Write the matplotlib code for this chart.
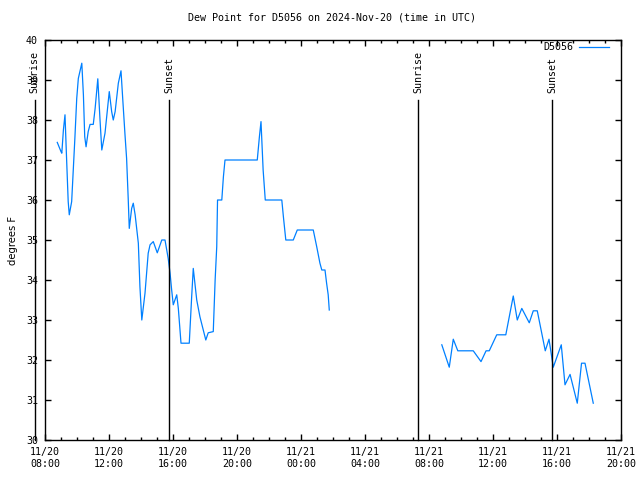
import datetime as dt
import numpy as np
import matplotlib
matplotlib.use("Agg")
import matplotlib.pyplot as plt
import matplotlib.dates as mdates

# dew point readings for D5056 (UTC), two runs with a gap overnight
times_a = ["11-20 08:46", "11-20 09:00", "11-20 09:03", "11-20 09:09", "11-20 09:15",
           "11-20 09:20", "11-20 09:27", "11-20 09:31", "11-20 09:40", "11-20 09:52",
           "11-20 09:59", "11-20 10:05", "11-20 10:18", "11-20 10:24", "11-20 10:29",
           "11-20 10:34", "11-20 10:42", "11-20 10:49", "11-20 11:01", "11-20 11:08",
           "11-20 11:18", "11-20 11:26", "11-20 11:33", "11-20 11:45", "11-20 12:01",
           "11-20 12:10", "11-20 12:16", "11-20 12:23", "11-20 12:35", "11-20 12:45",
           "11-20 12:51", "11-20 13:00", "11-20 13:06", "11-20 13:12", "11-20 13:16",
           "11-20 13:25", "11-20 13:31", "11-20 13:38", "11-20 13:50", "11-20 13:56",
           "11-20 14:03", "11-20 14:15", "11-20 14:27", "11-20 14:34", "11-20 14:46",
           "11-20 15:01", "11-20 15:18", "11-20 15:30", "11-20 15:42", "11-20 15:49",
           "11-20 15:55", "11-20 16:01", "11-20 16:14", "11-20 16:20", "11-20 16:30",
           "11-20 17:01", "11-20 17:10", "11-20 17:16", "11-20 17:29", "11-20 17:41",
           "11-20 18:03", "11-20 18:12", "11-20 18:31", "11-20 18:38", "11-20 18:44",
           "11-20 18:47", "11-20 19:03", "11-20 19:09", "11-20 19:15", "11-20 21:16",
           "11-20 21:24", "11-20 21:30", "11-20 21:38", "11-20 21:46", "11-20 22:48",
           "11-20 22:54", "11-20 23:03", "11-20 23:31", "11-20 23:46", "11-21 00:46",
           "11-21 00:59", "11-21 01:11", "11-21 01:18", "11-21 01:30", "11-21 01:36",
           "11-21 01:42", "11-21 01:46"]
dew_a = [37.44, 37.21, 37.17, 37.75, 38.13, 37.2, 35.96, 35.63, 35.96, 37.54,
         38.54, 39.04, 39.42, 38.63, 37.58, 37.33, 37.71, 37.89, 37.89, 38.29,
         39.03, 38.04, 37.25, 37.67, 38.71, 38.21, 38.0, 38.21, 38.92, 39.23,
         38.58, 37.63, 37.04, 36.04, 35.29, 35.79, 35.92, 35.63, 34.92, 33.83,
         33.0, 33.67, 34.67, 34.88, 34.96, 34.68, 35.0, 35.0, 34.54, 34.17,
         33.75, 33.38, 33.63, 33.29, 32.42, 32.42, 33.58, 34.29, 33.5, 33.08,
         32.5, 32.68, 32.71, 34.0, 34.83, 36.0, 36.0, 36.58, 37.0, 37.0,
         37.58, 37.96, 36.75, 36.0, 36.0, 35.58, 35.0, 35.0, 35.25, 35.25,
         34.83, 34.42, 34.25, 34.25, 33.92, 33.63, 33.25]

times_b = ["11-21 08:48", "11-21 09:16", "11-21 09:31", "11-21 09:48", "11-21 10:46",
           "11-21 11:15", "11-21 11:34", "11-21 11:46", "11-21 12:14", "11-21 12:48",
           "11-21 13:16", "11-21 13:31", "11-21 13:48", "11-21 14:16", "11-21 14:31",
           "11-21 14:46", "11-21 15:16", "11-21 15:30", "11-21 15:46", "11-21 16:16",
           "11-21 16:30", "11-21 16:49", "11-21 17:16", "11-21 17:32", "11-21 17:45",
           "11-21 18:16"]
dew_b = [32.38, 31.82, 32.52, 32.23, 32.23, 31.96, 32.23, 32.23, 32.63, 32.63,
         33.6, 33.0, 33.29, 32.93, 33.23, 33.23, 32.23, 32.52, 31.82, 32.38,
         31.38, 31.64, 30.92, 31.92, 31.92, 30.92]

sun_events = ["Sunrise", "Sunset", "Sunrise", "Sunset"]
sun_times = ["11-20 07:22", "11-20 15:45", "11-21 07:19", "11-21 15:41"]

y_ticks = [30, 31, 32, 33, 34, 35, 36, 37, 38, 39, 40]


def parse(s):
    return dt.datetime.strptime("2024-" + s, "%Y-%m-%d %H:%M")


x = [parse(s) for s in times_a] + [parse(times_b[0])] + [parse(s) for s in times_b]
y = dew_a + [np.nan] + dew_b

plt.rcParams['font.family'] = ['DejaVu Sans Mono']
fs = 7.2

fig = plt.figure(figsize=(6.4, 4.8), dpi=100)
ax = fig.add_axes([45 / 640, 40 / 480, 576 / 640, 400 / 480])

ax.plot(x, y, color='#0080ff', lw=0.9, label='D5056')

## sunrise / sunset markers, not clipped (first one sits left of the axis)
for name, ts in zip(sun_events, sun_times):
    t = parse(ts)
    ax.plot([t, t], [30, 38.5], color='black', lw=1, clip_on=False)
    ax.annotate(name, xy=(t, 38.5), xytext=(0, 5), textcoords='offset points',
                rotation=90, ha='center', va='bottom', fontsize=fs, annotation_clip=False)

ax.set_xlim(parse("11-20 08:00"), parse("11-21 20:00"))
ax.set_ylim(30, 40)
ax.set_yticks(y_ticks)
ax.set_yticklabels([str(v) for v in y_ticks])

ax.xaxis.set_major_locator(mdates.HourLocator(byhour=[0, 4, 8, 12, 16, 20]))
ax.xaxis.set_minor_locator(mdates.HourLocator())
ax.xaxis.set_major_formatter(mdates.DateFormatter('%m/%d\n%H:%M'))

ax.tick_params(which='both', direction='in', top=True, right=True, labelsize=fs, width=1)
ax.tick_params(which='major', length=4.5, pad=5)
ax.tick_params(which='minor', length=2.5)
for sp in ax.spines.values():
    sp.set_linewidth(1)

ax.set_ylabel('degrees F', fontsize=fs, family='DejaVu Sans', labelpad=6)
fig.suptitle('Dew Point for D5056 on 2024-Nov-20 (time in UTC)', fontsize=fs, x=332 / 640, y=1 - 13 / 480)

ax.legend(loc='upper right', bbox_to_anchor=(611 / 640, 1 - 40 / 480), bbox_transform=fig.transFigure,
          frameon=False, markerfirst=False, handlelength=3.0, handletextpad=0.6,
          fontsize=fs, borderaxespad=0, borderpad=0.2)

fig.savefig('out.png', dpi=100)
